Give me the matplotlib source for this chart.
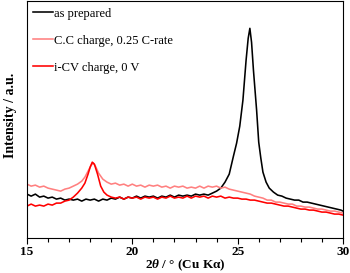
import matplotlib
matplotlib.use('Agg')
import matplotlib.pyplot as plt

plt.rcParams['font.family'] = ['Liberation Serif', 'DejaVu Serif']
plt.rcParams['mathtext.fontset'] = 'custom'
plt.rcParams['mathtext.rm'] = 'Liberation Serif:bold'
plt.rcParams['mathtext.it'] = 'Liberation Serif:italic:bold'
plt.rcParams['mathtext.bf'] = 'Liberation Serif:bold'

# as prepared (black)
prep_x = [15.0, 15.2, 15.4, 15.6, 15.8, 16.0, 16.2, 16.4, 16.6, 16.8,
          17.0, 17.2, 17.4, 17.6, 17.8, 18.0, 18.2, 18.4, 18.6, 18.8,
          19.0, 19.2, 19.4, 19.6, 19.8, 20.0, 20.2, 20.4, 20.6, 20.8,
          21.0, 21.2, 21.4, 21.6, 21.8, 22.0, 22.2, 22.4, 22.6, 22.8,
          23.0, 23.2, 23.4, 23.6, 23.8, 24.0, 24.2, 24.4, 24.6, 24.8,
          24.95, 25.1, 25.25, 25.4, 25.5, 25.58, 25.66, 25.75, 25.9, 26.0,
          26.1, 26.2, 26.35, 26.5, 26.7, 26.9, 27.1, 27.3, 27.5, 27.7,
          27.9, 28.1, 28.3, 28.5, 28.7, 28.9, 29.1, 29.3, 29.5, 29.7,
          29.9, 30.0]
prep_y = [44, 42, 44, 41, 42, 40, 41, 39, 40, 38,
          39, 38, 39, 37, 39, 38, 39, 37, 39, 38,
          40, 39, 41, 39, 41, 40, 42, 40, 42, 41,
          42, 40, 42, 41, 43, 41, 43, 42, 43, 42,
          44, 43, 44, 43, 45, 47, 50, 56, 64, 82,
          95, 112, 138, 178, 200, 210, 196, 168, 128, 96,
          80, 66, 56, 50, 46, 43, 42, 40, 39, 38,
          38, 36, 36, 35, 34, 33, 32, 31, 30, 29,
          28, 27]

# common tail grid for the two charged samples
tail_x = [19.0, 19.2, 19.4, 19.6, 19.8, 20.0, 20.2, 20.4, 20.6, 20.8,
          21.0, 21.2, 21.4, 21.6, 21.8, 22.0, 22.2, 22.4, 22.6, 22.8,
          23.0, 23.2, 23.4, 23.6, 23.8, 24.0, 24.2, 24.4, 24.6, 24.8,
          25.0, 25.2, 25.4, 25.6, 25.8, 26.0, 26.2, 26.4, 26.6, 26.8,
          27.0, 27.2, 27.4, 27.6, 27.8, 28.0, 28.2, 28.4, 28.6, 28.8,
          29.0, 29.2, 29.4, 29.6, 29.8, 30.0]

# C.C charge (pink)
cc_x = [15.0, 15.2, 15.4, 15.6, 15.8, 16.0, 16.2, 16.4, 16.6, 16.8,
        17.0, 17.2, 17.4, 17.6, 17.75, 17.9, 18.05, 18.15, 18.25, 18.4,
        18.6, 18.8] + tail_x
cc_y = [54, 52, 53, 51, 52, 50, 49, 48, 47, 49,
        50, 52, 54, 57, 61, 67, 73, 75, 72, 65,
        59, 56,
        54, 55, 53, 54, 52, 54, 52, 53, 51, 53,
        52, 53, 51, 52, 50, 52, 51, 52, 50, 51,
        50, 52, 50, 52, 51, 52, 50, 51, 49, 48,
        47, 46, 45, 44, 42, 41, 40, 38, 38, 36,
        36, 35, 34, 34, 32, 32, 31, 31, 30, 29,
        29, 28, 27, 27, 26, 25]

# i-CV charge (red)
cv_x = [15.0, 15.2, 15.4, 15.6, 15.8, 16.0, 16.2, 16.4, 16.6, 16.8,
        17.0, 17.2, 17.4, 17.6, 17.75, 17.9, 18.0, 18.1, 18.2, 18.35,
        18.5, 18.65, 18.8] + tail_x
cv_y = [32, 34, 32, 33, 32, 34, 33, 35, 35, 37,
        38, 41, 45, 50, 55, 64, 71, 76, 74, 64,
        52, 46, 43,
        41, 40, 41, 39, 41, 40, 41, 39, 41, 40,
        41, 39, 41, 40, 42, 40, 41, 40, 42, 40,
        42, 41, 42, 40, 42, 41, 42, 40, 41, 40,
        40, 39, 39, 38, 38, 37, 36, 35, 35, 34,
        33, 32, 32, 31, 30, 29, 29, 28, 28, 27,
        26, 26, 25, 24, 24, 23]

fig = plt.figure(figsize=(3.5, 2.73), dpi=100)
ax = fig.add_axes([0.077, 0.128, 0.903, 0.867])

ax.plot(prep_x, prep_y, color='black', lw=1.15, label='as prepared')
ax.plot(cc_x, cc_y, color='#ff8080', lw=1.15, label='C.C charge, 0.25 C-rate')
ax.plot(cv_x, cv_y, color='#ff0000', lw=1.15, label='i-CV charge, 0 V')

ax.set_xlim(15, 30)
ax.set_ylim(0, 237)
ax.set_xticks([15, 20, 25, 30])
ax.set_xticks(range(15, 31), minor=True)
ax.set_yticks([])
ax.tick_params(axis='x', which='major', direction='out', length=4, width=0.8,
               labelsize=9.5, pad=1.5)
ax.tick_params(axis='x', which='minor', direction='out', length=3, width=0.8)
for lbl in ax.get_xticklabels():
    lbl.set_fontweight('bold')

ax.set_xlabel(r'2$\mathit{\theta}$ / ° (Cu Kα)', fontsize=9.5, fontweight='bold')
ax.xaxis.set_label_coords(0.5, -0.084)
ax.set_ylabel('Intensity / a.u.', fontsize=10, fontweight='bold')
ax.yaxis.set_label_coords(-0.03, 0.52)

ax.legend(loc='upper left', frameon=False, fontsize=9, handlelength=1.6,
          handletextpad=0.1, labelspacing=1.2, borderaxespad=0.0,
          borderpad=0.5)

fig.savefig('out.png', dpi=100)
